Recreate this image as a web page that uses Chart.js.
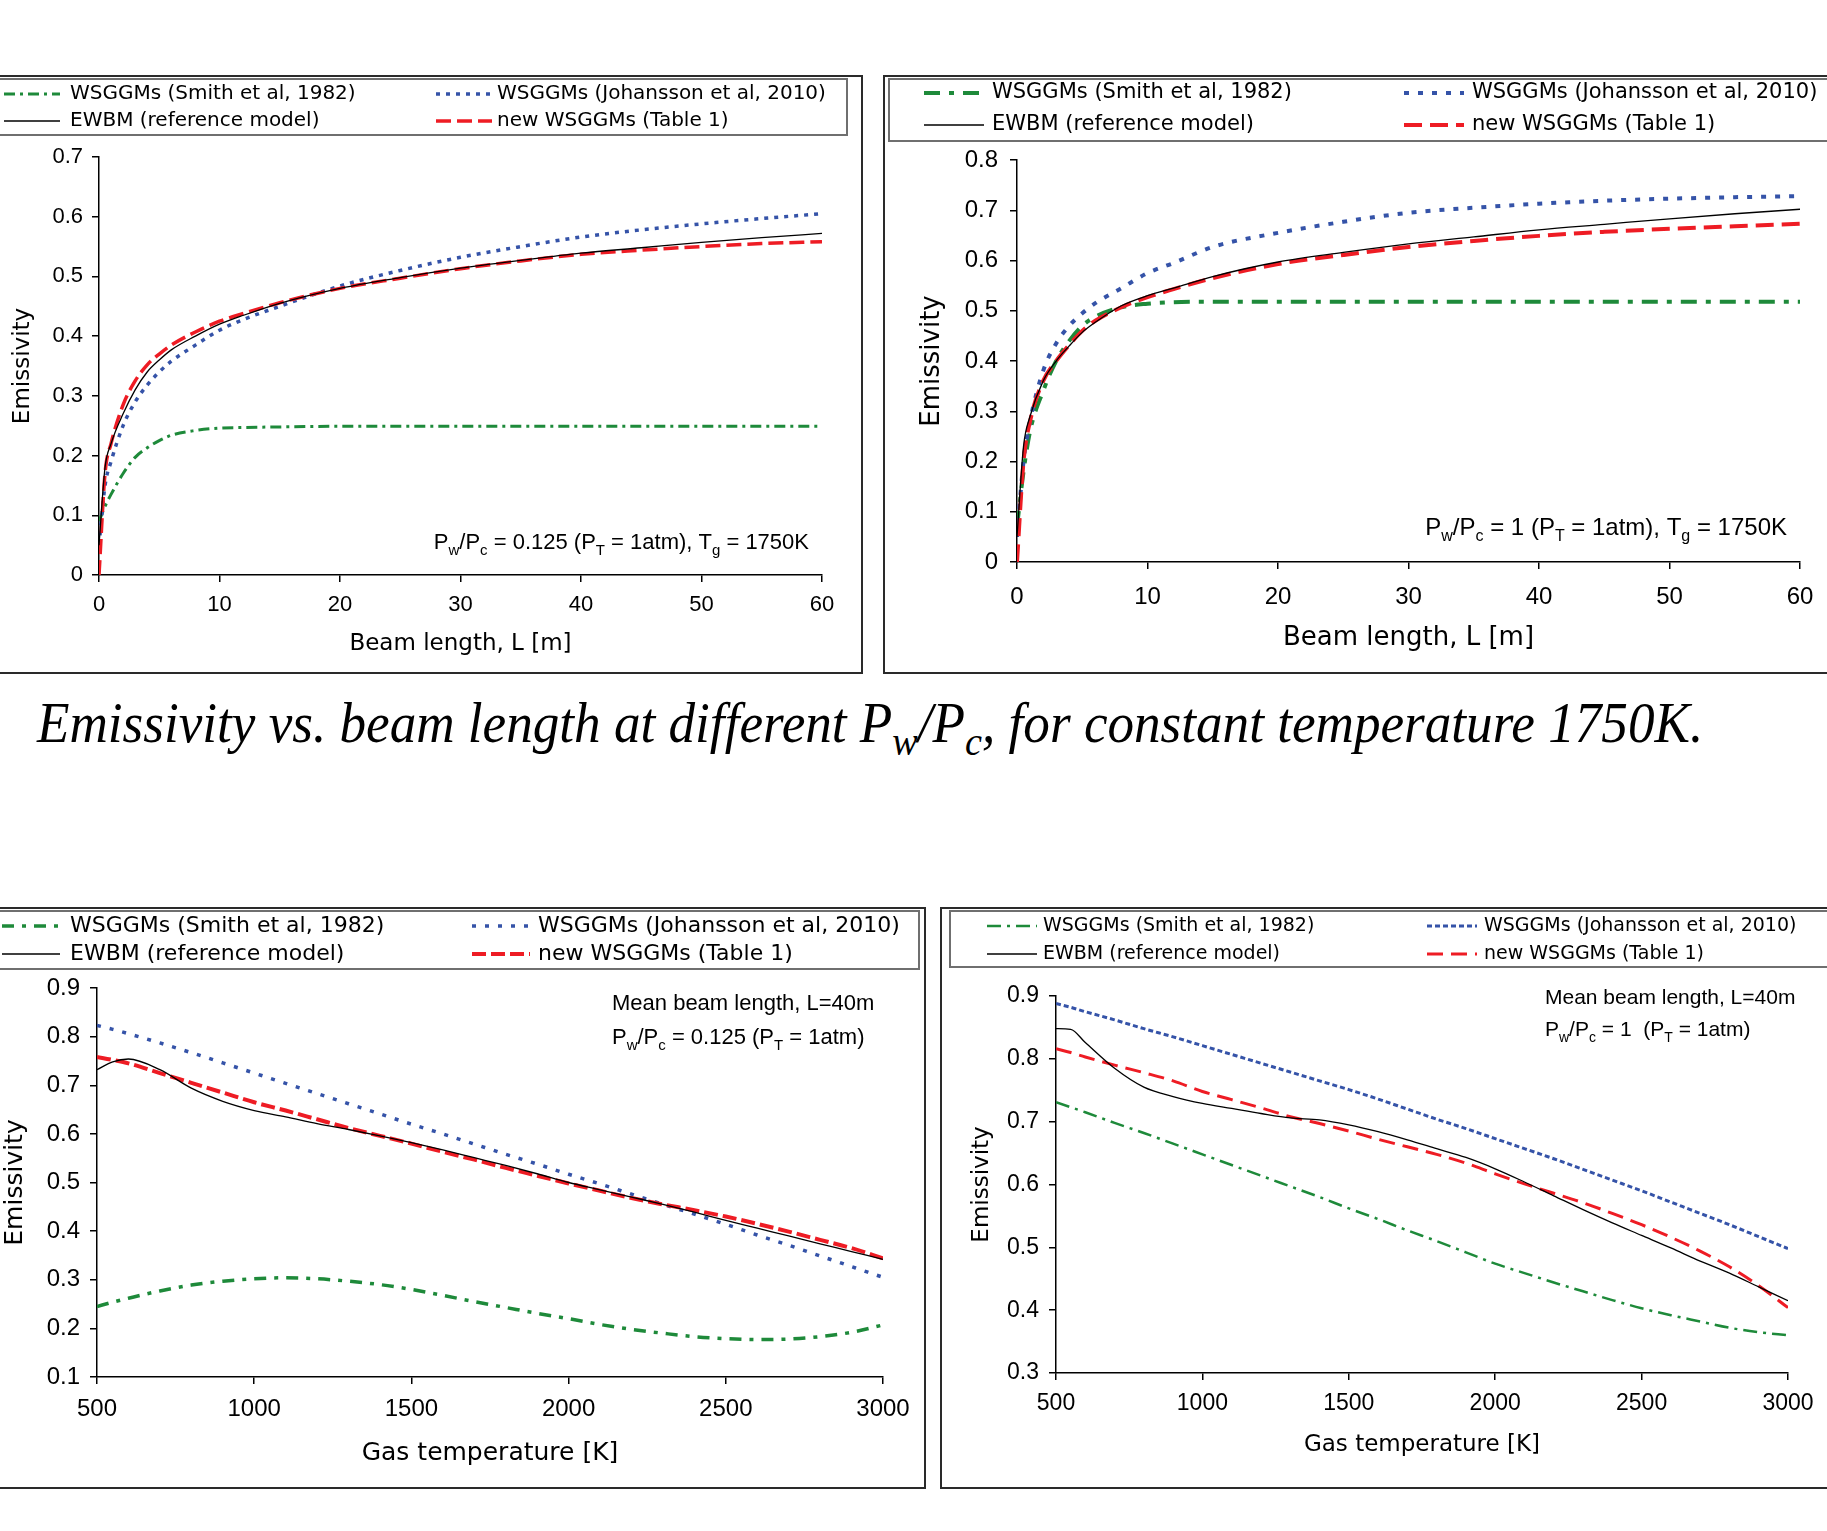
<!DOCTYPE html>
<html>
<head>
<meta charset="utf-8">
<script src="https://cdn.jsdelivr.net/npm/chart.js@4.4.1/dist/chart.umd.min.js"></script>
<style>
  body { margin: 0; background: #fff; width: 1827px; height: 1531px; overflow: hidden; position: relative; }
  canvas { position: absolute; }
  .frame { position: absolute; border: 2px solid #2a2a2a; box-sizing: border-box; pointer-events: none; }
  #caption { position: absolute; left: 37px; top: 695px; font-family: "Liberation Serif", serif; font-style: italic;
             font-size: 56px; line-height: 1; white-space: nowrap; transform-origin: 0 0; }
  #caption sub { font-size: 0.72em; vertical-align: -0.32em; line-height: 0; }
</style>
</head>
<body>
<canvas id="c1" width="860" height="596" style="left:0;top:76px"></canvas>
<canvas id="c2" width="942" height="596" style="left:885px;top:76px"></canvas>
<canvas id="c3" width="923" height="578" style="left:0;top:909px"></canvas>
<canvas id="c4" width="885" height="578" style="left:942px;top:909px"></canvas>
<div class="frame" style="left:-3px;top:75px;width:866px;height:599px"></div>
<div class="frame" style="left:883px;top:75px;width:960px;height:599px"></div>
<div class="frame" style="left:-3px;top:907px;width:929px;height:582px"></div>
<div class="frame" style="left:940px;top:907px;width:900px;height:582px"></div>
<div id="caption">Emissivity vs. beam length at different P<sub>w</sub>/P<sub>c</sub>, for constant temperature 1750K.</div>
<script>
// legend names
const nameSmith = 'WSGGMs (Smith et al, 1982)';
const nameJoh = 'WSGGMs (Johansson et al, 2010)';
const nameEwbm = 'EWBM (reference model)';
const nameNew = 'new WSGGMs (Table 1)';

// beam length [m] (top charts, Tg = 1750K)
const beamL = [0, 0.5, 1, 2, 3, 4, 5, 6, 8, 10, 12, 15, 20, 25, 30, 35, 40, 45, 50, 55, 60];
// Pw/Pc = 0.125
const smithL125 = [0.09, 0.115, 0.135, 0.17, 0.197, 0.213, 0.225, 0.234, 0.242, 0.246, 0.247, 0.248, 0.249, 0.249, 0.249, 0.249, 0.249, 0.249, 0.249, 0.249, 0.249];
const johL125 = [0.05, 0.15, 0.19, 0.25, 0.29, 0.318, 0.34, 0.358, 0.385, 0.41, 0.428, 0.45, 0.484, 0.51, 0.532, 0.55, 0.566, 0.578, 0.588, 0.597, 0.605];
const ewbmL125 = [0.05, 0.18, 0.22, 0.27, 0.31, 0.34, 0.36, 0.377, 0.40, 0.42, 0.435, 0.455, 0.48, 0.498, 0.514, 0.527, 0.539, 0.548, 0.557, 0.565, 0.572];
const newL125 = [0.0, 0.17, 0.22, 0.285, 0.325, 0.352, 0.37, 0.385, 0.407, 0.425, 0.438, 0.456, 0.48, 0.497, 0.513, 0.526, 0.537, 0.544, 0.55, 0.555, 0.558];
// Pw/Pc = 1
const smithL1 = [0.07, 0.18, 0.26, 0.34, 0.40, 0.44, 0.47, 0.488, 0.507, 0.514, 0.517, 0.518, 0.518, 0.518, 0.518, 0.518, 0.518, 0.518, 0.518, 0.518, 0.518];
const johL1 = [0.05, 0.2, 0.28, 0.38, 0.435, 0.47, 0.495, 0.515, 0.545, 0.575, 0.595, 0.627, 0.655, 0.677, 0.695, 0.705, 0.713, 0.719, 0.723, 0.726, 0.728];
const ewbmL1 = [0.05, 0.23, 0.29, 0.36, 0.40, 0.43, 0.457, 0.477, 0.51, 0.53, 0.545, 0.568, 0.597, 0.616, 0.633, 0.647, 0.661, 0.672, 0.683, 0.693, 0.702];
const newL1 = [0.0, 0.2, 0.28, 0.36, 0.40, 0.432, 0.46, 0.48, 0.507, 0.527, 0.543, 0.565, 0.593, 0.611, 0.627, 0.639, 0.649, 0.657, 0.663, 0.668, 0.673];

// gas temperature [K] (bottom charts, L = 40m)
const gasT = [500, 550, 600, 700, 800, 900, 1000, 1100, 1200, 1300, 1400, 1500, 1600, 1700, 1800, 1900, 2000, 2100, 2200, 2300, 2400, 2500, 2600, 2700, 2800, 2900, 3000];
// Pw/Pc = 0.125
const smithT125 = [0.245, 0.254, 0.262, 0.277, 0.289, 0.297, 0.302, 0.304, 0.302, 0.297, 0.29, 0.28, 0.268, 0.255, 0.243, 0.231, 0.22, 0.208, 0.198, 0.19, 0.183, 0.179, 0.177, 0.178, 0.183, 0.192, 0.207];
const johT125 = [0.823, 0.815, 0.806, 0.787, 0.767, 0.746, 0.725, 0.704, 0.683, 0.662, 0.641, 0.62, 0.6, 0.579, 0.558, 0.538, 0.517, 0.497, 0.476, 0.455, 0.435, 0.414, 0.392, 0.371, 0.349, 0.327, 0.305];
const ewbmT125 = [0.732, 0.748, 0.754, 0.732, 0.694, 0.667, 0.648, 0.635, 0.621, 0.609, 0.596, 0.582, 0.567, 0.551, 0.535, 0.518, 0.50, 0.485, 0.47, 0.455, 0.439, 0.422, 0.406, 0.39, 0.374, 0.358, 0.342];
const newT125 = [0.758, 0.752, 0.745, 0.725, 0.705, 0.685, 0.665, 0.648, 0.63, 0.612, 0.596, 0.58, 0.563, 0.547, 0.53, 0.514, 0.498, 0.483, 0.468, 0.455, 0.443, 0.43, 0.415, 0.399, 0.382, 0.365, 0.344];
// Pw/Pc = 1
const smithT1 = [0.731, 0.723, 0.715, 0.698, 0.682, 0.665, 0.648, 0.631, 0.614, 0.597, 0.58, 0.562, 0.545, 0.527, 0.51, 0.492, 0.474, 0.459, 0.444, 0.43, 0.416, 0.403, 0.392, 0.382, 0.372, 0.365, 0.36];
const johT1 = [0.888, 0.882, 0.875, 0.862, 0.848, 0.835, 0.821, 0.807, 0.793, 0.779, 0.765, 0.751, 0.736, 0.72, 0.704, 0.689, 0.673, 0.657, 0.641, 0.624, 0.607, 0.59, 0.572, 0.554, 0.536, 0.517, 0.498];
const ewbmT1 = [0.848, 0.847, 0.826, 0.785, 0.755, 0.74, 0.729, 0.721, 0.713, 0.706, 0.703, 0.695, 0.684, 0.671, 0.657, 0.643, 0.625, 0.604, 0.582, 0.56, 0.539, 0.519, 0.499, 0.478, 0.459, 0.437, 0.415];
const newT1 = [0.816, 0.81, 0.803, 0.79, 0.778, 0.765, 0.748, 0.735, 0.722, 0.708, 0.697, 0.685, 0.672, 0.66, 0.648, 0.634, 0.617, 0.601, 0.586, 0.571, 0.554, 0.536, 0.516, 0.494, 0.469, 0.439, 0.404];

const GREEN = '#1e8a3a', BLUE = '#3553a8', RED = '#ee1c24', BLACK = '#000';

function pts(xs, ys) {
  return xs.map((x, i) => ({ x, y: ys[i] }));
}

// split "P_{w}/P_{c}" into normal / subscript pieces
function parseSub(str) {
  const parts = [];
  const re = /_\{(.*?)\}/g;
  let last = 0, m;
  while ((m = re.exec(str))) {
    if (m.index > last) parts.push({ t: str.slice(last, m.index), sub: false });
    parts.push({ t: m[1], sub: true });
    last = re.lastIndex;
  }
  if (last < str.length) parts.push({ t: str.slice(last), sub: false });
  return parts;
}

// draws the boxed legend and the text notes
const panelDeco = {
  id: 'panelDeco',
  afterDraw(chart, args, o) {
    const ctx = chart.ctx;
    ctx.save();
    const b = o.box;
    ctx.strokeStyle = '#6f6f6f';
    ctx.lineWidth = 2;
    ctx.strokeRect(b.x, b.y, b.w, b.h);
    ctx.textBaseline = 'middle';
    ctx.textAlign = 'left';
    ctx.fillStyle = '#000';
    o.items.forEach(it => {
      const ds = chart.data.datasets[it.ds];
      ctx.save();
      ctx.strokeStyle = ds.borderColor;
      ctx.lineWidth = ds.borderWidth;
      ctx.setLineDash(ds.borderDash || []);
      ctx.beginPath();
      ctx.moveTo(it.sx, it.y);
      ctx.lineTo(it.sx + o.sampleW, it.y);
      ctx.stroke();
      ctx.restore();
      ctx.font = `${o.fontSize}px "DejaVu Sans"`;
      ctx.fillText(ds.label, it.tx, it.y);
    });

    ctx.textBaseline = 'alphabetic';
    o.notes.forEach(n => {
      const parts = parseSub(n.text);
      const big = `${n.size}px "Liberation Sans"`;
      const small = `${Math.round(n.size * 0.66)}px "Liberation Sans"`;
      let w = 0;
      parts.forEach(p => { ctx.font = p.sub ? small : big; w += ctx.measureText(p.t).width; });
      let x = n.align === 'right' ? n.x - w : n.x;
      parts.forEach(p => {
        ctx.font = p.sub ? small : big;
        ctx.fillText(p.t, x, n.y + (p.sub ? n.size * 0.27 : 0));
        x += ctx.measureText(p.t).width;
      });
    });
    ctx.restore();
  }
};

function makePanel(id, p) {
  const canvas = document.getElementById(id);
  const W = canvas.width, H = canvas.height;
  const titleLh = p.titleSize * 1.2;
  const padLeft = p.yTitleX - titleLh / 2;
  const yAxisW = p.area.left - padLeft;
  const xAxisH = p.xTitleY + titleLh / 2 - p.area.bottom;
  const tickLh = p.tickSize * 1.2;

  const series = [
    { label: nameSmith, ys: p.smith, color: GREEN, st: p.styles.smith, order: 3 },
    { label: nameJoh, ys: p.joh, color: BLUE, st: p.styles.joh, order: 2 },
    { label: nameEwbm, ys: p.ewbm, color: BLACK, st: p.styles.ewbm, order: 0 },
    { label: nameNew, ys: p.nw, color: RED, st: p.styles.nw, order: 1 }
  ];

  const axisCommon = {
    type: 'linear',
    grid: { drawOnChartArea: false, drawTicks: true, tickLength: 7, color: '#000', lineWidth: 1.5 },
    border: { display: true, color: '#000', width: 1.5 }
  };

  return new Chart(canvas, {
    type: 'line',
    data: {
      datasets: series.map(s => ({
        label: s.label,
        data: pts(p.xs, s.ys),
        borderColor: s.color,
        borderWidth: s.st.w,
        borderDash: s.st.dash,
        borderCapStyle: 'butt',
        pointRadius: 0,
        fill: false,
        cubicInterpolationMode: 'monotone',
        order: s.order
      }))
    },
    options: {
      responsive: false,
      animation: false,
      devicePixelRatio: 1,
      layout: {
        padding: { left: padLeft, top: p.area.top, right: W - p.area.right, bottom: H - p.area.bottom - xAxisH }
      },
      plugins: {
        legend: { display: false },
        tooltip: { enabled: false },
        panelDeco: { box: p.legendBox, items: p.legendItems, sampleW: p.sampleW, fontSize: p.legendSize, notes: p.notes }
      },
      scales: {
        x: Object.assign({}, axisCommon, {
          min: p.xMin, max: p.xMax,
          ticks: { stepSize: p.xStep, autoSkip: false, maxRotation: 0, color: '#000',
                   font: { family: 'Liberation Sans', size: p.tickSize }, padding: p.xTickCenter - 7 - tickLh / 2,
                   callback: v => String(v) },
          title: { display: true, text: p.xTitle, color: '#000', padding: 0,
                   font: { family: 'DejaVu Sans', size: p.titleSize } },
          afterFit: s => { s.height = xAxisH; }
        }),
        y: Object.assign({}, axisCommon, {
          min: p.yMin, max: p.yMax,
          ticks: { stepSize: 0.1, autoSkip: false, color: '#000', padding: p.yTickPad,
                   font: { family: 'Liberation Sans', size: p.tickSize },
                   callback: v => String(Number(v.toFixed(1))) },
          title: { display: true, text: 'Emissivity', color: '#000', padding: 0,
                   font: { family: 'DejaVu Sans', size: p.titleSize } },
          afterFit: s => { s.width = yAxisW; }
        })
      }
    },
    plugins: [panelDeco]
  });
}

function legendItems(c1s, c2s, c1t, c2t, r1, r2) {
  return [
    { ds: 0, sx: c1s, tx: c1t, y: r1 },
    { ds: 1, sx: c2s, tx: c2t, y: r1 },
    { ds: 2, sx: c1s, tx: c1t, y: r2 },
    { ds: 3, sx: c2s, tx: c2t, y: r2 }
  ];
}

makePanel('c1', {
  xs: beamL, smith: smithL125, joh: johL125, ewbm: ewbmL125, nw: newL125,
  xMin: 0, xMax: 60, xStep: 10, yMin: 0, yMax: 0.7,
  xTitle: 'Beam length, L [m]',
  area: { left: 99, right: 822, top: 81, bottom: 499 },
  tickSize: 22, titleSize: 23, xTickCenter: 30, yTickPad: 9,
  xTitleY: 568, yTitleX: 23,
  legendBox: { x: -5, y: 3, w: 852, h: 56 }, legendSize: 20, sampleW: 56,
  legendItems: legendItems(4, 436, 70, 497, 18, 45),
  styles: { smith: { w: 3, dash: [11, 5, 3, 5] }, joh: { w: 3.5, dash: [4, 6] },
            ewbm: { w: 1.3, dash: [] }, nw: { w: 3.5, dash: [15, 6] } },
  notes: [{ text: 'P_{w}/P_{c} = 0.125 (P_{T} = 1atm), T_{g} = 1750K', x: 809, y: 473, size: 22, align: 'right' }]
});

makePanel('c2', {
  xs: beamL, smith: smithL1, joh: johL1, ewbm: ewbmL1, nw: newL1,
  xMin: 0, xMax: 60, xStep: 10, yMin: 0, yMax: 0.8,
  xTitle: 'Beam length, L [m]',
  area: { left: 132, right: 917, top: 84, bottom: 486 },
  tickSize: 24, titleSize: 26, xTickCenter: 35, yTickPad: 12,
  xTitleY: 562, yTitleX: 47,
  legendBox: { x: 4, y: 3, w: 960, h: 62 }, legendSize: 21, sampleW: 60,
  legendItems: legendItems(39, 519, 107, 587, 17, 49),
  styles: { smith: { w: 4, dash: [16, 9, 5, 9] }, joh: { w: 4, dash: [5, 9] },
            ewbm: { w: 1.3, dash: [] }, nw: { w: 4, dash: [18, 8] } },
  notes: [{ text: 'P_{w}/P_{c} = 1 (P_{T} = 1atm), T_{g} = 1750K', x: 902, y: 459, size: 24, align: 'right' }]
});

makePanel('c3', {
  xs: gasT, smith: smithT125, joh: johT125, ewbm: ewbmT125, nw: newT125,
  xMin: 500, xMax: 3000, xStep: 500, yMin: 0.1, yMax: 0.9,
  xTitle: 'Gas temperature [K]',
  area: { left: 97, right: 883, top: 79, bottom: 468 },
  tickSize: 24, titleSize: 25, xTickCenter: 32, yTickPad: 10,
  xTitleY: 544, yTitleX: 15,
  legendBox: { x: -5, y: 2, w: 924, h: 58 }, legendSize: 22, sampleW: 58,
  legendItems: legendItems(2, 472, 70, 538, 17, 45),
  styles: { smith: { w: 3.5, dash: [12, 8, 4, 8] }, joh: { w: 3.5, dash: [4, 9] },
            ewbm: { w: 1.3, dash: [] }, nw: { w: 4, dash: [14, 5] } },
  notes: [
    { text: 'Mean beam length, L=40m', x: 612, y: 101, size: 22, align: 'left' },
    { text: 'P_{w}/P_{c} = 0.125 (P_{T} = 1atm)', x: 612, y: 135, size: 22, align: 'left' }
  ]
});

makePanel('c4', {
  xs: gasT, smith: smithT1, joh: johT1, ewbm: ewbmT1, nw: newT1,
  xMin: 500, xMax: 3000, xStep: 500, yMin: 0.3, yMax: 0.9,
  xTitle: 'Gas temperature [K]',
  area: { left: 114, right: 846, top: 87, bottom: 464 },
  tickSize: 23, titleSize: 23, xTickCenter: 31, yTickPad: 10,
  xTitleY: 536, yTitleX: 40,
  legendBox: { x: 8, y: 2, w: 900, h: 56 }, legendSize: 19, sampleW: 50,
  legendItems: legendItems(45, 485, 101, 542, 17, 45),
  styles: { smith: { w: 2.5, dash: [14, 6, 3, 6] }, joh: { w: 3, dash: [5, 3] },
            ewbm: { w: 1.3, dash: [] }, nw: { w: 3, dash: [16, 8] } },
  notes: [
    { text: 'Mean beam length, L=40m', x: 603, y: 95, size: 21, align: 'left' },
    { text: 'P_{w}/P_{c} = 1  (P_{T} = 1atm)', x: 603, y: 127, size: 21, align: 'left' }
  ]
});

// fit the caption to the width it has in the figure
const cap = document.getElementById('caption');
cap.style.transform = `scaleX(${1666 / cap.offsetWidth})`;
</script>
</body>
</html>
